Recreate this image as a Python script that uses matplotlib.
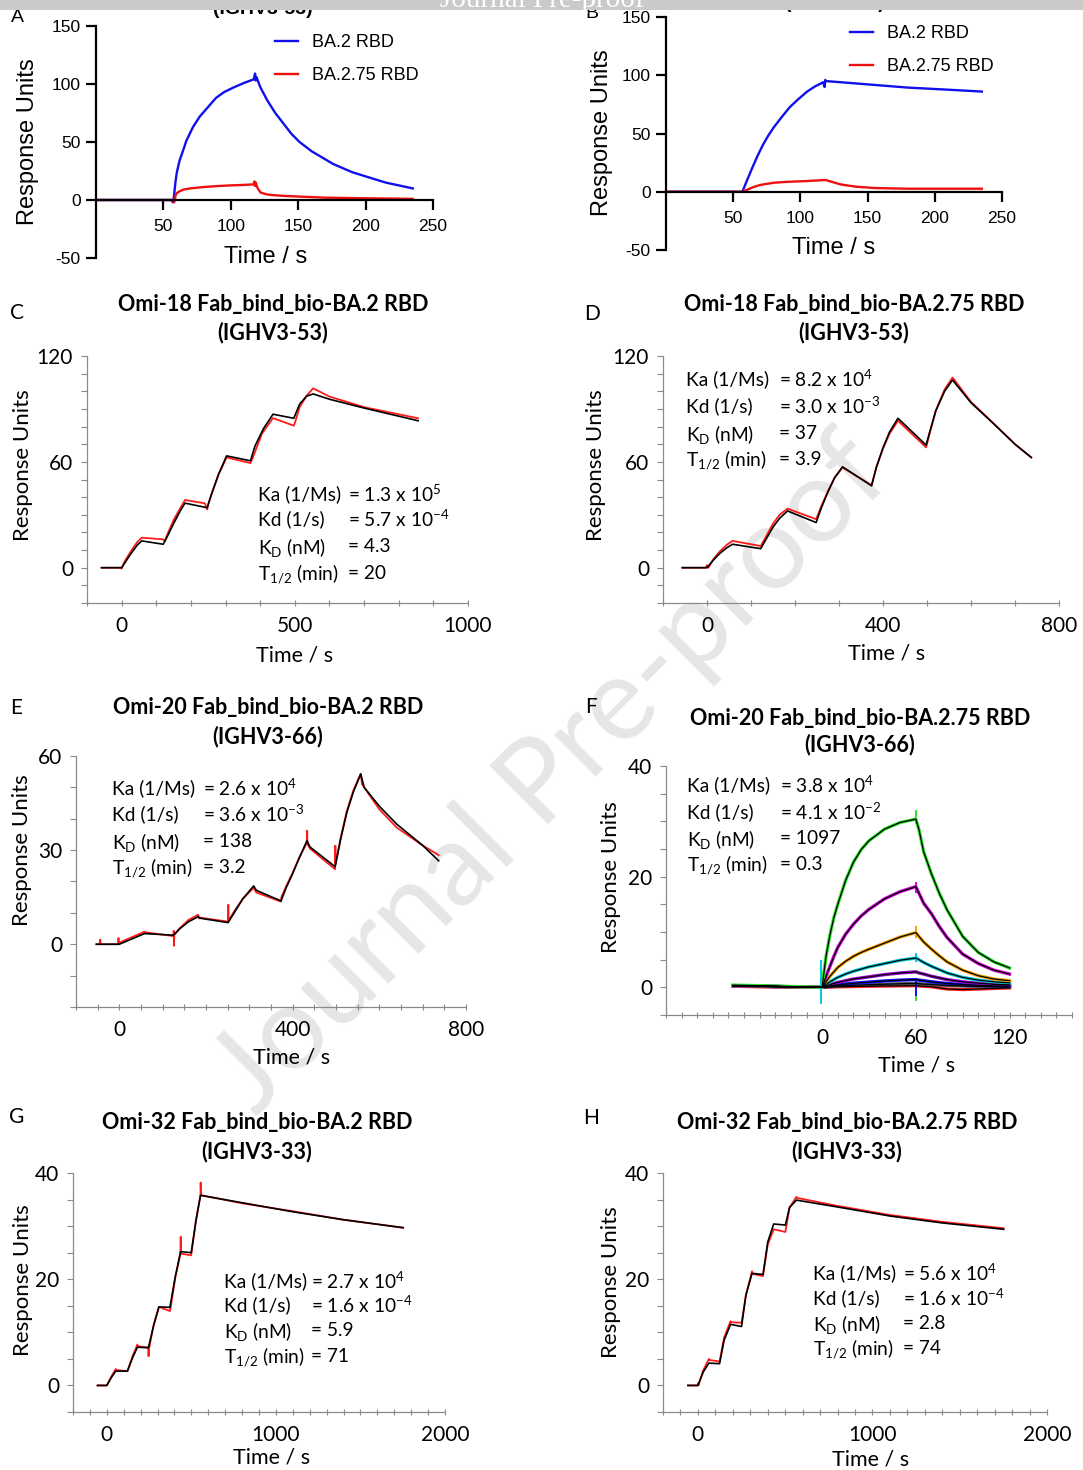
import matplotlib
matplotlib.use("Agg")
import matplotlib.pyplot as plt
from matplotlib.patches import Rectangle
from matplotlib.ticker import MultipleLocator, FixedLocator

W, H = 1083, 1470

plt.rcParams["font.family"] = ["Lato", "DejaVu Sans"]
plt.rcParams["mathtext.fontset"] = "custom"
plt.rcParams["mathtext.rm"] = "Lato"
plt.rcParams["mathtext.it"] = "Lato:italic"
plt.rcParams["mathtext.bf"] = "Lato:bold"
plt.rcParams["axes.unicode_minus"] = False

# ---- A: Omi-18 IgG screening (BA.2 vs BA.2.75) ----
a_t_ba2 = [0, 56, 57, 57.5, 58, 59, 60, 62, 65, 67, 72, 77, 83, 89, 95, 102, 110, 117,
           118, 118.5, 119, 122, 127, 133, 139, 145, 151, 160, 176, 190, 201, 215, 235]
a_v_ba2 = [0, 0, -2, 0, 5, 16, 24, 34, 44, 51, 63, 72, 80, 88, 93, 97, 101, 104,
           109, 103, 106, 97, 86, 75, 66, 57, 50, 42, 31, 24, 20, 15, 10]
a_t_ba275 = [0, 57, 58, 58.5, 59, 60, 62, 65, 70, 80, 90, 100, 110, 117, 117.5, 118, 118.5,
             119, 120, 122, 126, 130, 140, 150, 170, 200, 235]
a_v_ba275 = [0, 0, -2, 0, 4, 6, 7.5, 9, 10, 11.2, 12, 12.6, 13, 13.5, 16, 12, 15,
             13, 10, 6.5, 5, 4.3, 3.5, 3, 2, 1.5, 1]

# ---- B ----
b_t_ba2 = [0, 56, 57, 60, 64, 68, 72, 76, 80, 86, 92, 98, 105, 111, 117, 118, 118.5, 119,
           130, 155, 180, 210, 235]
b_v_ba2 = [0, 0, 0.5, 9, 20, 30.5, 40, 48, 55, 64, 72.5, 79, 86, 90.5, 94, 90, 96, 95,
           94, 91.7, 89.4, 87.6, 86]
b_t_ba275 = [0, 57, 60, 65, 70, 80, 90, 105, 117, 119, 122, 126, 130, 136, 142, 155, 180, 235]
b_v_ba275 = [0, 0, 1.5, 4, 5.8, 7.7, 8.5, 9.2, 10, 10, 9, 7.6, 6.3, 5.2, 4.3, 3.2, 2.6, 2.6]

# ---- C: Omi-18 Fab / BA.2 RBD, single-cycle kinetics ----
c_t_fit = [-58, 0, 10, 29, 45, 58, 120, 130, 150, 170, 183, 247, 260, 280, 303, 372,
           385, 410, 437, 497, 514, 534, 553, 600, 700, 856]
c_v_fit = [0, 0, 3, 8.6, 12.8, 15.2, 13.3, 17, 25, 32.5, 36.6, 34, 42, 53, 63.4, 60.6,
           69, 79, 87, 84.7, 92.8, 97.2, 98.5, 95.5, 90.5, 83.3]
c_t_obs = [-58, -2, 0, 3, 10, 29, 45, 58, 120, 125, 130, 150, 170, 183, 240, 247, 250,
           260, 280, 303, 372, 380, 405, 437, 497, 500, 514, 534, 553, 600, 700, 856]
c_v_obs = [0, 0, -0.5, 1, 4, 10, 14.5, 17, 16.1, 15, 18, 27, 34, 38.4, 36.5, 33, 36,
           42, 53, 62.5, 59.3, 63, 76, 84.8, 80.5, 82, 91, 97.5, 101.7, 97, 91, 84.7]
c_consts = ["1.3 x 10$^{\\mathregular{5}}$", "5.7 x 10$^{\\mathregular{-4}}$", "4.3", "20"]

# ---- D: Omi-18 Fab / BA.2.75 RBD ----
d_t_fit = [-56, 0, 15, 30, 45, 58, 122, 135, 150, 165, 183, 248, 260, 275, 290, 308,
           374, 385, 400, 415, 434, 498, 505, 520, 540, 558, 600, 648, 700, 737]
d_v_fit = [0, 0, 4.5, 8.3, 11.3, 13.3, 10.8, 16.5, 23, 28, 32.2, 25.6, 34, 43, 51, 57.2,
           46.4, 57, 68, 77, 84.7, 69.5, 76, 89, 100, 106.4, 93.5, 82.4, 70, 62.5]
d_t_obs = [-56, -3, 0, 3, 15, 30, 45, 58, 122, 135, 150, 165, 183, 248, 260, 275, 290,
           308, 374, 385, 400, 415, 434, 498, 505, 520, 540, 558, 600, 648, 700, 737]
d_v_obs = [0, 0, 1.5, 0, 5, 9.5, 13, 15.2, 12.3, 18, 25, 30, 33.5, 27.5, 35, 43.5, 51,
           56.8, 46.8, 57, 67.5, 76, 83.3, 68.2, 75, 89, 101, 107.8, 94, 82.6, 70, 62.5]
d_consts = ["8.2 x 10$^{\\mathregular{4}}$", "3.0 x 10$^{\\mathregular{-3}}$", "37", "3.9"]

# ---- E: Omi-20 Fab / BA.2 RBD ----
e_t_fit = [-53, 0, 58, 125, 140, 160, 182, 186, 251, 265, 285, 310, 316, 373, 385, 400,
           415, 433, 440, 498, 510, 525, 540, 557, 565, 600, 640, 700, 737]
e_v_fit = [0, 0, 3.4, 2.9, 5, 7.2, 8.8, 8.3, 6.9, 10, 14.5, 18.6, 17.2, 13.8, 18, 22.5,
           27.5, 33, 31, 24.7, 33, 42, 48.5, 54.3, 50, 44, 38.3, 31.5, 26.6]
e_t_obs = [-53, -45, -44, -43, -3, -2, -1, 0, 58, 60, 125, 125.5, 126, 127, 140, 160, 182,
           184, 186, 251, 251.5, 252, 265, 285, 310, 316, 373, 374, 385, 400, 415, 433,
           433.5, 434, 440, 498, 498.5, 499, 510, 525, 540, 557, 560, 600, 640, 700, 737]
e_v_obs = [0, 0, 1.5, 0, 0, 2, 0.3, 0.5, 4.0, 3.8, 2.6, 4.3, -0.5, 3.0, 5.2, 7.8, 9.4,
           8.2, 8.5, 7.2, 12.6, 7.5, 10.5, 14.5, 18, 16.5, 13.6, 15, 18.5, 22.8, 27.5, 32.4,
           36.2, 32, 30.5, 23.9, 31.4, 25.5, 33.5, 42.5, 49, 54.3, 51, 43, 37.2, 31.5, 28.4]
e_consts = ["2.6 x 10$^{\\mathregular{4}}$", "3.6 x 10$^{\\mathregular{-3}}$", "138", "3.2"]

# ---- F: Omi-20 Fab / BA.2.75 RBD, multi-cycle concentration series ----
f_t = [-57, -40, -20, -1, 0, 1, 2.5, 5, 7.5, 10, 15, 20, 25, 30, 40, 50, 60,
       62, 65, 70, 75, 80, 90, 100, 110, 120]
f_green = [0.4, 0.3, 0.15, 0, 0, 2.4, 5.6, 9.5, 12.6, 15, 19.3, 22.6, 24.9, 26.5, 28.6, 29.8,
           30.4, 28.5, 24.5, 20.5, 17, 14, 9.2, 6.3, 4.6, 3.5]
f_magenta = [0.3, 0.2, 0.1, 0, 0, 0.8, 2.0, 3.8, 5.6, 7.2, 9.6, 11.4, 12.9, 14.1, 16, 17.3,
             18.2, 17, 15.2, 13.3, 11, 9, 6, 4.3, 3.1, 2.4]
f_orange = [0.3, 0.2, 0.1, 0, 0, 0.4, 1.0, 2.0, 2.8, 3.6, 4.7, 5.6, 6.3, 6.9, 8.0, 9.1,
            9.9, 9.2, 8.2, 6.9, 5.7, 4.6, 3.1, 2.1, 1.5, 1.2]
f_cyan = [0.3, 0.2, 0.1, 0, 0, 0.2, 0.5, 1.0, 1.4, 1.8, 2.4, 2.9, 3.3, 3.7, 4.3, 4.9,
          5.3, 5.0, 4.5, 3.8, 3.2, 2.6, 1.8, 1.3, 1.0, 0.8]
f_purple = [0.3, 0.2, 0.1, 0, 0, 0.1, 0.25, 0.5, 0.7, 0.9, 1.2, 1.5, 1.7, 1.9, 2.3, 2.6,
            2.8, 2.6, 2.4, 2.0, 1.7, 1.4, 1.0, 0.75, 0.55, 0.45]
f_blue = [0.3, 0.2, 0.1, 0, 0, 0.05, 0.12, 0.25, 0.35, 0.45, 0.6, 0.75, 0.85, 0.95, 1.15,
          1.3, 1.4, 1.3, 1.2, 1.0, 0.85, 0.7, 0.5, 0.35, 0.25, 0.2]
f_grey = [0.3, 0.2, 0.1, 0, 0, 0.02, 0.06, 0.12, 0.17, 0.22, 0.3, 0.37, 0.42, 0.47, 0.56,
          0.64, 0.7, 0.65, 0.58, 0.5, 0.42, 0.35, 0.25, 0.18, 0.13, 0.1]
f_red = [0.2, 0.1, 0.05, 0, 0, 0.01, 0.02, 0.05, 0.08, 0.1, 0.12, 0.15, 0.18, 0.2, 0.24,
         0.27, 0.3, 0.25, 0.2, 0.1, -0.1, -0.3, -0.4, -0.3, -0.2, -0.1]
f_series = [f_red, f_grey, f_blue, f_purple, f_cyan, f_orange, f_magenta, f_green]
f_colors = ["#ff2020", "#555555", "#1010ff", "#9a00d0", "#00c8d8", "#f0a000", "#d000d0", "#30e030"]
# injection spikes: time, low, high, colour index
f_spikes = [(-1, -3, 5, 4), (60, 29.5, 32, 7), (60, -2.5, 0.5, 7), (60, 9, 11, 5),
            (60, 4.5, 6.2, 4), (60, -1.5, 1.5, 2), (60, 17, 19, 6)]
f_consts = ["3.8 x 10$^{\\mathregular{4}}$", "4.1 x 10$^{\\mathregular{-2}}$", "1097", "0.3"]

# ---- G: Omi-32 Fab / BA.2 RBD ----
g_t_fit = [-55, 0, 27, 53, 122, 152, 181, 246, 277, 308, 373, 405, 436, 499, 527, 554,
           800, 1100, 1400, 1752]
g_v_fit = [0, 0, 1.5, 2.7, 2.7, 5.2, 7.2, 7.1, 11.3, 14.8, 14.7, 20.5, 25.2, 25, 31, 35.8,
           34.4, 32.7, 31.2, 29.7]
g_t_obs = [-55, -5, 0, 27, 53, 55, 122, 152, 181, 184, 246, 247, 248, 250, 277, 308, 373,
           375, 405, 436, 437, 438, 442, 499, 527, 554, 555, 557, 560, 800, 1100, 1400, 1752]
g_v_obs = [0, 0, 0, 1.7, 3.1, 2.9, 2.7, 5.5, 7.7, 7.4, 7.1, 5.5, 7.5, 7.0, 11.4, 14.8, 14.0,
           14.2, 20.3, 24.8, 28, 25, 24.8, 24.5, 31, 35.8, 38.2, 36, 35.8, 34.3, 32.8, 31.2,
           29.7]
g_consts = ["2.7 x 10$^{\\mathregular{4}}$", "1.6 x 10$^{\\mathregular{-4}}$", "5.9", "71"]

# ---- H: Omi-32 Fab / BA.2.75 RBD ----
h_t_fit = [-57, 0, 30, 63, 124, 150, 187, 250, 275, 310, 373, 400, 434, 501, 525, 564,
           800, 1100, 1400, 1752]
h_v_fit = [0, 0, 2.5, 4.2, 4.1, 8.5, 11.5, 11.1, 17, 21.1, 20.9, 27, 30.4, 30.2, 33.5, 34.9,
           33.6, 31.9, 30.6, 29.4]
h_t_obs = [-57, -3, 0, 3, 30, 63, 66, 124, 150, 187, 190, 250, 275, 310, 313, 373, 400,
           434, 501, 525, 564, 570, 800, 1100, 1400, 1752]
h_v_obs = [0, 0, 0.4, 0, 2.8, 5.0, 4.8, 4.5, 9, 12.1, 11.9, 11.8, 17, 21.5, 21.0, 20.6,
           26.5, 29.4, 28.9, 33.5, 35.5, 35.3, 33.8, 32.1, 30.8, 29.6]
h_consts = ["5.6 x 10$^{\\mathregular{4}}$", "1.6 x 10$^{\\mathregular{-4}}$", "2.8", "74"]

const_labels = ["Ka (1/Ms)", "Kd (1/s)", "K$_\\mathregular{D}$ (nM)", "T$_\\mathregular{1/2}$ (min)"]

ARIAL = "Liberation Sans"

fig = plt.figure(figsize=(W / 100, H / 100), dpi=100)


def add_px_axes(box):
    left, top, right, bottom = box
    ax = fig.add_axes([left / W, 1 - bottom / H, (right - left) / W, (bottom - top) / H])
    ax.set_facecolor("none")
    return ax


def to_axes(box, x, y):
    left, top, right, bottom = box
    return (x - left) / (right - left), (bottom - y) / (bottom - top)


def fig_text(x, y, s, **kw):
    return fig.text(x / W, 1 - y / H, s, **kw)


def screening_panel(box, t1, v1, t2, v2, legend_xy, xlabel_xy, ylabel_xy):
    ax = add_px_axes(box)
    ax.plot(t1, v1, color="#1010ee", lw=1.7, label="BA.2 RBD")
    ax.plot(t2, v2, color="#ee1010", lw=1.7, label="BA.2.75 RBD")
    ax.set_xlim(0, 250)
    ax.set_ylim(-50, 150)
    ax.spines[["top", "right"]].set_visible(False)
    ax.spines["bottom"].set_position(("data", 0))
    for s in ("left", "bottom"):
        ax.spines[s].set_linewidth(1.6)
    ax.xaxis.set_major_locator(FixedLocator([50, 100, 150, 200, 250]))
    ax.yaxis.set_major_locator(MultipleLocator(50))
    ax.tick_params(direction="out", length=7, width=1.6, labelsize=12.5)
    ax.tick_params(axis="x", pad=7)
    ax.tick_params(axis="y", pad=4)
    for lab in ax.get_xticklabels() + ax.get_yticklabels():
        lab.set_fontfamily(ARIAL)
    ax.set_xlabel("Time / s", fontsize=17, family=ARIAL, va="center")
    ax.xaxis.set_label_coords(*to_axes(box, *xlabel_xy))
    ax.set_ylabel("Response Units", fontsize=17, family=ARIAL, va="center")
    ax.yaxis.set_label_coords(*to_axes(box, *ylabel_xy))
    ax.legend(loc="upper left", bbox_to_anchor=to_axes(box, *legend_xy), frameon=False,
              prop={"family": ARIAL, "size": 13}, handlelength=1.3, handletextpad=0.75,
              labelspacing=0.88, borderpad=0, borderaxespad=0)
    return ax


def kinetics_panel(box, xlim, ylim, xmajor, xminor, ymajor, yminor, xlabel_xy, ylabel_xy):
    ax = add_px_axes(box)
    ax.set_xlim(*xlim)
    ax.set_ylim(*ylim)
    ax.spines[["top", "right"]].set_visible(False)
    for s in ("left", "bottom"):
        ax.spines[s].set_color("#8a8a8a")
        ax.spines[s].set_linewidth(0.9)
    ax.xaxis.set_major_locator(FixedLocator(xmajor))
    ax.xaxis.set_minor_locator(MultipleLocator(xminor))
    ax.yaxis.set_major_locator(MultipleLocator(ymajor))
    ax.yaxis.set_minor_locator(MultipleLocator(yminor))
    ax.tick_params(which="both", color="#8a8a8a", width=0.8, labelsize=15)
    ax.tick_params(axis="x", which="both", direction="inout", length=5, pad=7)
    ax.tick_params(axis="y", which="both", direction="out", length=4, pad=6)
    ax.set_xlabel("Time / s", fontsize=15.5, va="center")
    ax.xaxis.set_label_coords(*to_axes(box, *xlabel_xy))
    ax.set_ylabel("Response Units", fontsize=16, va="center")
    ax.yaxis.set_label_coords(*to_axes(box, *ylabel_xy))
    return ax


def panel_title(x, y1, y2, line1, line2):
    fig_text(x, y1, line1, ha="center", va="center", fontsize=15.5, fontweight="bold")
    fig_text(x, y2, line2, ha="center", va="center", fontsize=15.5, fontweight="bold")


def constants_block(label_x, value_x, ys, values):
    for lab, val, y in zip(const_labels, values, ys):
        fig_text(label_x, y, lab, ha="left", va="center_baseline", fontsize=13.8)
        fig_text(value_x, y, "= " + val, ha="left", va="center_baseline", fontsize=13.8)


def fit_overlay(ax, t_obs, v_obs, t_fit, v_fit):
    ax.plot(t_obs, v_obs, color="#ff1a1a", lw=1.3)
    ax.plot(t_fit, v_fit, color="black", lw=1.2)


# A
box_a = (96, 26, 433, 258)
screening_panel(box_a, a_t_ba2, a_v_ba2, a_t_ba275, a_v_ba275, (275, 34), (266, 257), (28, 142))
fig_text(17, 17, "A", ha="center", va="center", fontsize=14, family=ARIAL)
fig_text(263, 10, "(IGHV3-53)", ha="center", va="center", fontsize=14, family=ARIAL,
         fontweight="bold")

# B
box_b = (666, 17, 1002, 250)
screening_panel(box_b, b_t_ba2, b_v_ba2, b_t_ba275, b_v_ba275, (850, 25), (834, 248), (602, 133))
fig_text(592, 13, "B", ha="center", va="center", fontsize=14, family=ARIAL)
fig_text(835, 3, "(IGHV3-53)", ha="center", va="center", fontsize=14, family=ARIAL,
         fontweight="bold")

# C
box_c = (87, 356, 468, 603)
ax = kinetics_panel(box_c, (-100, 1000), (-20, 120), [0, 500, 1000], 100, 60, 10,
                    (295, 655), (23, 465))
fit_overlay(ax, c_t_obs, c_v_obs, c_t_fit, c_v_fit)
panel_title(273, 305, 333, "Omi-18 Fab_bind_bio-BA.2 RBD", "(IGHV3-53)")
fig_text(17, 313, "C", ha="center", va="center", fontsize=15)
constants_block(258, 348, [493, 518, 545, 572], c_consts)

# D
box_d = (663, 356, 1059, 603)
ax = kinetics_panel(box_d, (-100, 800), (-20, 120), [0, 400, 800], 100, 60, 10,
                    (887, 653), (596, 465))
fit_overlay(ax, d_t_obs, d_v_obs, d_t_fit, d_v_fit)
panel_title(854, 305, 333, "Omi-18 Fab_bind_bio-BA.2.75 RBD", "(IGHV3-53)")
fig_text(592, 314, "D", ha="center", va="center", fontsize=15)
constants_block(686, 779, [378, 405, 432, 458], d_consts)

# E
box_e = (76, 756, 466, 1007)
ax = kinetics_panel(box_e, (-100, 800), (-20, 60), [0, 400, 800], 50, 30, 10,
                    (292, 1057), (22, 850))
fit_overlay(ax, e_t_obs, e_v_obs, e_t_fit, e_v_fit)
panel_title(268, 707, 737, "Omi-20 Fab_bind_bio-BA.2 RBD", "(IGHV3-66)")
fig_text(16, 708, "E", ha="center", va="center", fontsize=15)
constants_block(112, 203, [787, 813, 840, 866], e_consts)

# F
box_f = (666, 766, 1072, 1015)
ax = kinetics_panel(box_f, (-100, 160), (-5, 40), [0, 60, 120], 10, 20, 5,
                    (917, 1065), (611, 877))
for series, col in zip(f_series, f_colors):
    ax.plot(f_t, series, color=col, lw=2.4)
for t, lo, hi, ci in f_spikes:
    ax.vlines(t, lo, hi, color=f_colors[ci], lw=1.4)
for series in f_series:
    ax.plot(f_t, series, color="black", lw=0.9)
panel_title(860, 718, 745, "Omi-20 Fab_bind_bio-BA.2.75 RBD", "(IGHV3-66)")
fig_text(591, 707, "F", ha="center", va="center", fontsize=15)
constants_block(687, 780, [784, 811, 837, 863], f_consts)

# G
box_g = (73, 1173, 445, 1412)
ax = kinetics_panel(box_g, (-200, 2000), (-5, 40), [0, 1000, 2000], 100, 20, 5,
                    (272, 1458), (23, 1280))
fit_overlay(ax, g_t_obs, g_v_obs, g_t_fit, g_v_fit)
panel_title(257, 1123, 1152, "Omi-32 Fab_bind_bio-BA.2 RBD", "(IGHV3-33)")
fig_text(17, 1117, "G", ha="center", va="center", fontsize=15)
constants_block(224, 311, [1280, 1304, 1329, 1355], g_consts)

# H
box_h = (663, 1173, 1047, 1412)
ax = kinetics_panel(box_h, (-200, 2000), (-5, 40), [0, 1000, 2000], 100, 20, 5,
                    (871, 1460), (611, 1282))
fit_overlay(ax, h_t_obs, h_v_obs, h_t_fit, h_v_fit)
panel_title(847, 1123, 1152, "Omi-32 Fab_bind_bio-BA.2.75 RBD", "(IGHV3-33)")
fig_text(591, 1118, "H", ha="center", va="center", fontsize=15)
constants_block(813, 903, [1272, 1297, 1322, 1347], h_consts)

# diagonal watermark behind the panels, header strip on top
fig_text(552, 775, "Journal Pre-proof", ha="center", va="center", rotation=45,
         fontsize=84, color="#e6e6e6", zorder=-1)
fig.patches.append(Rectangle((0, 1 - 10 / H), 1, 10 / H, transform=fig.transFigure,
                             facecolor="#cacaca", edgecolor="none", zorder=10))
fig_text(542, 7, "Journal Pre-proof", ha="center", va="baseline", fontsize=21,
         family="Liberation Serif", color="white", zorder=11)

fig.savefig("out.png", dpi=100, facecolor="white")
